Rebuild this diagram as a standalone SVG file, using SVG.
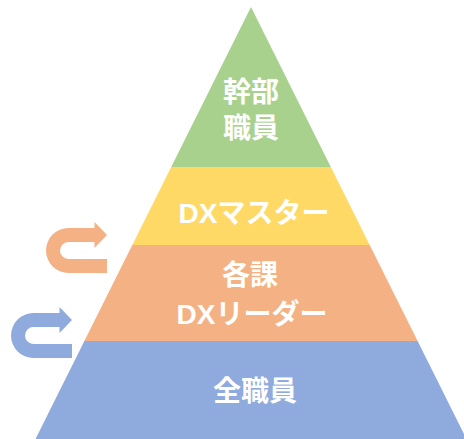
<svg xmlns="http://www.w3.org/2000/svg" width="464" height="439" viewBox="0 0 464 439">
<style>
.t{font-family:"Noto Sans CJK JP","Noto Sans",sans-serif;font-weight:bold;font-size:28px;fill:#FFFFFF;text-anchor:middle}
.l{font-family:"Liberation Sans","Noto Sans",sans-serif}
</style>
<rect width="464" height="439" fill="#FFFFFF"/>
<g id="level1">
<polygon points="251,7 330.8,167 171.2,167" fill="#A9D18E"/>
<text class="t" x="251" y="102">幹部</text>
<text class="t" x="251" y="138">職員</text>
</g>
<g id="level2">
<polygon points="171.2,167 330.8,167 369.7,245 132.3,245" fill="#FFD966"/>
<text class="t" x="254" y="223"><tspan class="l">DX</tspan>マスター</text>
</g>
<g id="level3">
<polygon points="132.3,245 369.7,245 417.6,341 84.4,341" fill="#F4B183"/>
<text class="t" x="250" y="285">各課</text>
<text class="t" x="252" y="324"><tspan class="l">DX</tspan>リーダー</text>
</g>
<g id="level4">
<polygon points="84.4,341 417.6,341 466.5,439 35.5,439" fill="#8FAADC"/>
<text class="t" x="255" y="401">全職員</text>
</g>
<g id="connectors">
<path id="arrow-orange" d="M107 273 L68.5 273 A22.5 22.5 0 0 1 68.5 228 L94.5 228 L94.5 222 L107 235 L94.5 248 L94.5 242 L68.5 242 A8.5 8.5 0 0 0 68.5 259 L107 259 Z" fill="#F4B183"/>
<path id="arrow-blue" d="M72 358 L33.5 358 A22.5 22.5 0 0 1 33.5 313 L59.5 313 L59.5 307 L72 320 L59.5 333 L59.5 327 L33.5 327 A8.5 8.5 0 0 0 33.5 344 L72 344 Z" fill="#8FAADC"/>
</g>
</svg>
